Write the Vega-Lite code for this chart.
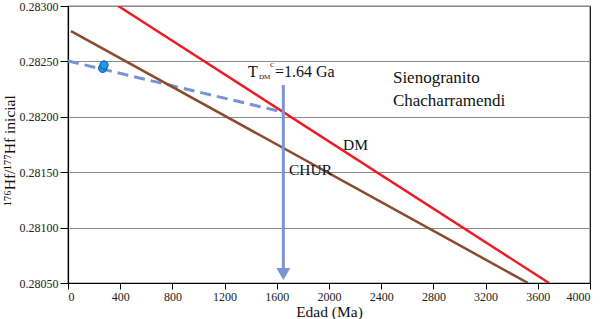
{
  "$schema": "https://vega.github.io/schema/vega-lite/v6.json",
  "width": 522,
  "height": 277,
  "autosize": {"type": "none"},
  "padding": {"left": 68, "top": 6, "right": 13, "bottom": 36},
  "background": "white",
  "config": {
    "view": {"stroke": "#000000", "strokeWidth": 1.2},
    "font": "Liberation Serif",
    "text": {"font": "Liberation Serif"}
  },
  "datasets": {
    "dm": [{"age": 385, "val": 0.283}, {"age": 3686, "val": 0.2805}],
    "chur": [{"age": 23, "val": 0.282774}, {"age": 3525, "val": 0.2805}],
    "evol": [{"age": 0, "val": 0.282504}, {"age": 1650, "val": 0.282042}],
    "arrow": [{"age": 1650, "val": 0.282287, "val2": 0.28061}],
    "head": [{"age": 1650, "val": 0.280581}],
    "samples": [{"age": 266, "val": 0.282438}, {"age": 276, "val": 0.282467}],
    "titles": [
      {"label": "Sienogranito", "age": 2490, "val": 0.282305},
      {"label": "Chacharramendi", "age": 2490, "val": 0.282097}
    ],
    "linelabels": [
      {"label": "DM", "age": 2107, "val": 0.2817},
      {"label": "CHUR", "age": 1693, "val": 0.281475}
    ],
    "tdm": [
      {"label": "T", "age": 1379, "val": 0.282359},
      {"label": "=1.64 Ga", "age": 1586, "val": 0.282359}
    ],
    "tdmsmall": [
      {"label": "DM", "age": 1464, "val": 0.282341},
      {"label": "C", "age": 1548, "val": 0.28245}
    ]
  },
  "encoding": {
    "x": {
      "field": "age",
      "type": "quantitative",
      "scale": {"domain": [0, 4000], "nice": false, "zero": false},
      "axis": {
        "values": [0, 400, 800, 1200, 1600, 2000, 2400, 2800, 3200, 3600, 4000],
        "format": "d",
        "title": "Edad (Ma)",
        "titleFont": "Liberation Serif",
        "titleFontSize": 15.5,
        "titleFontWeight": "normal",
        "titleColor": "#111111",
        "titleBaseline": "alphabetic",
        "titleY": 33,
        "labelFont": "Liberation Serif",
        "labelFontSize": 12,
        "labelColor": "#222222",
        "labelPadding": 2,
        "tickSize": 6,
        "tickColor": "#000000",
        "domainColor": "#000000",
        "domainWidth": 1.2,
        "grid": false
      }
    },
    "y": {
      "field": "val",
      "type": "quantitative",
      "scale": {"domain": [0.2805, 0.283], "nice": false, "zero": false},
      "axis": {
        "values": [0.2805, 0.281, 0.2815, 0.282, 0.2825, 0.283],
        "format": ".5f",
        "title": "¹⁷⁶Hf/¹⁷⁷Hf inicial",
        "titleFont": "Liberation Serif",
        "titleFontSize": 15.5,
        "titleFontWeight": "normal",
        "titleColor": "#111111",
        "titleAngle": -90,
        "titleBaseline": "alphabetic",
        "titleAlign": "center",
        "titleX": -54,
        "titleY": 144,
        "labelFont": "Liberation Serif",
        "labelFontSize": 12,
        "labelColor": "#222222",
        "labelPadding": 2,
        "tickSize": 8,
        "tickColor": "#000000",
        "domainColor": "#000000",
        "domainWidth": 1.2,
        "grid": true,
        "gridColor": "#8a8a8a",
        "gridWidth": 1
      }
    }
  },
  "layer": [
    {
      "data": {"name": "evol"},
      "mark": {"type": "line", "color": "#7893d2", "strokeWidth": 3, "strokeDash": [11, 6], "clip": true}
    },
    {
      "data": {"name": "chur"},
      "mark": {"type": "line", "color": "#8b4a2f", "strokeWidth": 2.5, "clip": true}
    },
    {
      "data": {"name": "dm"},
      "mark": {"type": "line", "color": "#ec1c24", "strokeWidth": 2.5, "clip": true}
    },
    {
      "data": {"name": "arrow"},
      "mark": {"type": "rule", "color": "#7b95d4", "strokeWidth": 3},
      "encoding": {"y2": {"field": "val2"}}
    },
    {
      "data": {"name": "head"},
      "mark": {"type": "point", "shape": "M-1,-0.86L1,-0.86L0,0.86Z", "size": 196, "filled": true, "color": "#7b95d4", "opacity": 1}
    },
    {
      "data": {"name": "samples"},
      "mark": {"type": "point", "shape": "circle", "size": 70, "filled": true, "fill": "#1c9be6", "stroke": "#1f4c9c", "strokeWidth": 1, "opacity": 1}
    },
    {
      "data": {"name": "titles"},
      "mark": {"type": "text", "align": "left", "baseline": "alphabetic", "fontSize": 17, "color": "#111111"},
      "encoding": {"text": {"field": "label"}}
    },
    {
      "data": {"name": "linelabels"},
      "mark": {"type": "text", "align": "left", "baseline": "alphabetic", "fontSize": 15.5, "color": "#111111"},
      "encoding": {"text": {"field": "label"}}
    },
    {
      "data": {"name": "tdm"},
      "mark": {"type": "text", "align": "left", "baseline": "alphabetic", "fontSize": 16, "color": "#111111"},
      "encoding": {"text": {"field": "label"}}
    },
    {
      "data": {"name": "tdmsmall"},
      "mark": {"type": "text", "align": "left", "baseline": "alphabetic", "fontSize": 7, "color": "#111111"},
      "encoding": {"text": {"field": "label"}}
    }
  ]
}
